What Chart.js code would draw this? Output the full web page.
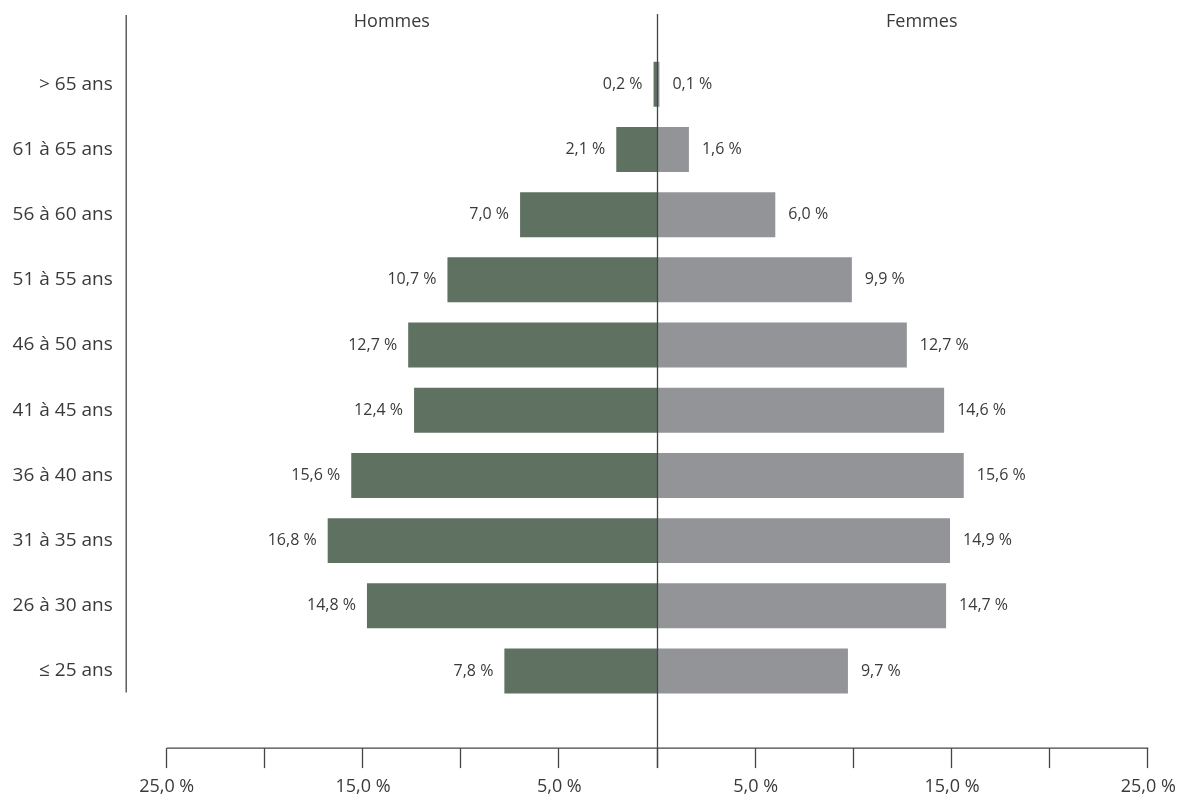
<!DOCTYPE html>
<html>
<head>
<meta charset="utf-8">
<script src="https://cdn.jsdelivr.net/npm/chart.js@4/dist/chart.umd.min.js"></script>
<style>
  html, body { margin: 0; padding: 0; background: #ffffff; }
  #wrap { width: 1186px; height: 795px; position: relative; }
</style>
</head>
<body>
<div id="wrap"><canvas id="c" width="1186" height="795"></canvas></div>
<script>
// ---- Data ----
const ageGroups = ['> 65 ans', '61 à 65 ans', '56 à 60 ans', '51 à 55 ans', '46 à 50 ans',
                   '41 à 45 ans', '36 à 40 ans', '31 à 35 ans', '26 à 30 ans', '≤ 25 ans'];
const hommes = [0.2, 2.1, 7.0, 10.7, 12.7, 12.4, 15.6, 16.8, 14.8, 7.8];
const femmes = [0.1, 1.6, 6.0, 9.9, 12.7, 14.6, 15.6, 14.9, 14.7, 9.7];
const seriesNames = ['Hommes', 'Femmes'];
const axisMin = -25, axisMax = 25, axisStep = 5;

const FONT = '"Open Sans", "DejaVu Sans", sans-serif';
const TEXT = '#3a3a3a';
const LINE = '#444444';
const fmt = v => Math.abs(v).toFixed(1).replace('.', ',') + ' %';

const zeroPad = s => { s.paddingLeft = 0; s.paddingRight = 0; s.paddingTop = 0; s.paddingBottom = 0; };

const decor = {
  id: 'decor',
  afterDatasetsDraw(chart) {
    const ctx = chart.ctx, ca = chart.chartArea;
    const xs = chart.scales.x;
    const x0 = xs.getPixelForValue(0);
    const leftX = ca.left - 40.5;
    const axisY = ca.bottom + 44.5;
    ctx.save();
    ctx.strokeStyle = LINE;
    ctx.lineWidth = 1.3;
    // left vertical line
    ctx.beginPath();
    ctx.moveTo(leftX, ca.top - 36.7);
    ctx.lineTo(leftX, ca.bottom - 11);
    ctx.stroke();
    // center line
    ctx.beginPath();
    ctx.moveTo(Math.round(x0) - 0.5, ca.top - 37.7);
    ctx.lineTo(Math.round(x0) - 0.5, axisY + 20);
    ctx.stroke();
    // bottom axis
    ctx.beginPath();
    ctx.moveTo(xs.getPixelForValue(axisMin), axisY);
    ctx.lineTo(xs.getPixelForValue(axisMax), axisY);
    ctx.stroke();
    xs.ticks.forEach(t => {
      const px = Math.round(xs.getPixelForValue(t.value)) - 0.5;
      ctx.beginPath();
      ctx.moveTo(px, axisY);
      ctx.lineTo(px, axisY + 20);
      ctx.stroke();
    });
    // headers
    ctx.fillStyle = TEXT;
    ctx.font = '18px ' + FONT;
    ctx.textAlign = 'center';
    ctx.textBaseline = 'middle';
    ctx.fillText(seriesNames[0], (leftX + x0) / 2, ca.top - 29.7);
    ctx.fillText(seriesNames[1], (x0 + chart.width) / 2, ca.top - 29.7);
    // data labels
    ctx.font = '16px ' + FONT;
    chart.data.datasets.forEach((ds, di) => {
      const meta = chart.getDatasetMeta(di);
      meta.data.forEach((bar, i) => {
        const v = ds.data[i];
        if (v < 0) {
          ctx.textAlign = 'right';
          ctx.fillText(fmt(v), Math.min(bar.x, bar.base) - 11, bar.y);
        } else {
          ctx.textAlign = 'left';
          ctx.fillText(fmt(v), Math.max(bar.x, bar.base) + 13, bar.y);
        }
      });
    });
    ctx.restore();
  }
};

new Chart(document.getElementById('c'), {
  type: 'bar',
  data: {
    labels: ageGroups,
    datasets: [
      { label: seriesNames[0], data: hommes.map(v => -v), backgroundColor: '#5f7262',
        barPercentage: 0.69, categoryPercentage: 1 },
      { label: seriesNames[1], data: femmes, backgroundColor: '#939498',
        barPercentage: 0.69, categoryPercentage: 1 }
    ]
  },
  options: {
    indexAxis: 'y',
    responsive: false,
    animation: false,
    layout: { padding: { top: 51.7, right: 37.7, left: 0, bottom: 0 } },
    plugins: { legend: { display: false }, tooltip: { enabled: false } },
    scales: {
      x: {
        stacked: true,
        min: axisMin, max: axisMax,
        grid: { display: false, drawTicks: false },
        border: { display: false },
        afterFit: s => { s.height = 91.4; zeroPad(s); },
        ticks: {
          stepSize: axisStep,
          autoSkip: false,
          maxRotation: 0,
          padding: 72,
          color: TEXT,
          font: { family: FONT, size: 18 },
          callback: v => (Math.abs(v) % 10 === 5 ? fmt(v) : '')
        }
      },
      y: {
        stacked: true,
        grid: { display: false, drawTicks: false },
        border: { display: false },
        afterFit: s => { s.width = 166.7; zeroPad(s); },
        ticks: {
          padding: 54,
          color: TEXT,
          font: { family: FONT, size: 19 }
        }
      }
    }
  },
  plugins: [decor]
});
</script>
</body>
</html>
